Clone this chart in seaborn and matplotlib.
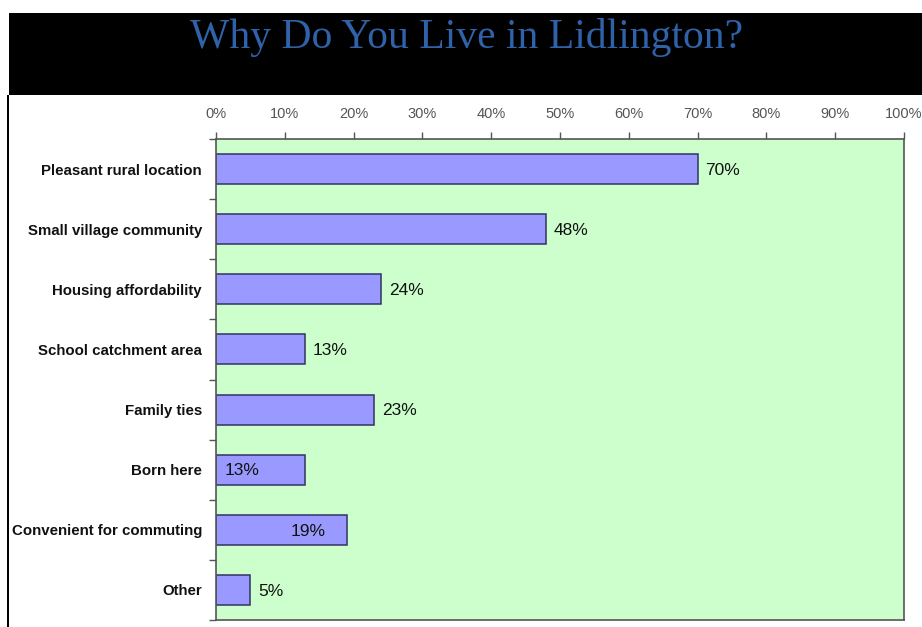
import matplotlib
matplotlib.use("Agg")
import matplotlib.pyplot as plt
from matplotlib.patches import Rectangle
from matplotlib.ticker import FixedLocator
import seaborn as sns

# data
reasons = [
    "Pleasant rural location",
    "Small village community",
    "Housing affordability",
    "School catchment area",
    "Family ties",
    "Born here",
    "Convenient for commuting",
    "Other",
]
shares = [70, 48, 24, 13, 23, 13, 19, 5]
tick_values = list(range(0, 101, 10))
tick_labels = [f"{v}%" for v in tick_values]

# a couple of labels sit inside the bar in the original
inside_label_x = {"Born here": 1.3, "Convenient for commuting": 10.8}

W, H = 922, 627
sns.set_theme(style="white")
plt.rcParams["font.family"] = ["Liberation Sans", "DejaVu Sans"]

fig = plt.figure(figsize=(W / 100, H / 100), dpi=100)
fig.patch.set_facecolor("white")

# black header band + left border line
fig.patches.append(Rectangle((9 / W, 1 - 95 / H), 1 - 9 / W, 82 / H,
                             transform=fig.transFigure, facecolor="black",
                             edgecolor="none", zorder=0))
fig.patches.append(Rectangle((7 / W, 0), 2 / W, 1 - 95 / H,
                             transform=fig.transFigure, facecolor="black",
                             edgecolor="none", zorder=0))

fig.text(467 / W, 1 - 48 / H, "Why Do You Live in Lidlington?",
         ha="center", va="baseline", color="#2f62a8", fontsize=30,
         family=["Liberation Serif", "DejaVu Serif"], zorder=5)
# the title is clipped by the top of the band
fig.patches.append(Rectangle((0, 1 - 13 / H), 1, 13 / H,
                             transform=fig.transFigure, facecolor="white",
                             edgecolor="none", zorder=10))

left, right, top, bottom = 216, 904, 139, 620
ax = fig.add_axes([left / W, 1 - bottom / H, (right - left) / W, (bottom - top) / H])
ax.set_facecolor("#ccffcc")

sns.barplot(x=shares, y=reasons, orient="h", color="#9999ff", saturation=1,
            edgecolor="#333366", linewidth=1.1, width=0.5, ax=ax)

for i, (name, val) in enumerate(zip(reasons, shares)):
    xpos = inside_label_x.get(name, val + 1.1)
    ax.text(xpos, i + 0.02, f"{val}%", va="center", ha="left", fontsize=12.5,
            color="#111111")

ax.set_xlim(0, 100)
ax.set_ylim(7.5, -0.5)
ax.xaxis.tick_top()
ax.set_xticks(tick_values)
ax.set_xticklabels(tick_labels, color="#555555", fontsize=10.5,
                   family=["Liberation Sans Narrow", "Liberation Sans"])
ax.tick_params(axis="x", which="major", direction="out", length=5, width=1,
               color="#555555", pad=8, top=True, bottom=False)
ax.tick_params(axis="y", which="major", length=0, pad=10)
ax.yaxis.set_minor_locator(FixedLocator([i + 0.5 for i in range(-1, len(reasons))]))
ax.tick_params(axis="y", which="minor", direction="out", length=5, width=1,
               color="#555555", left=True)
for lab in ax.get_yticklabels():
    lab.set_fontweight("bold")
    lab.set_fontsize(10.8)
    lab.set_color("#111111")
ax.set_xlabel("")
ax.set_ylabel("")

for side in ["left", "top", "right", "bottom"]:
    ax.spines[side].set_visible(True)
    ax.spines[side].set_color("#555555")
    ax.spines[side].set_linewidth(1.2)

fig.savefig("out.png", dpi=100, facecolor="white")
